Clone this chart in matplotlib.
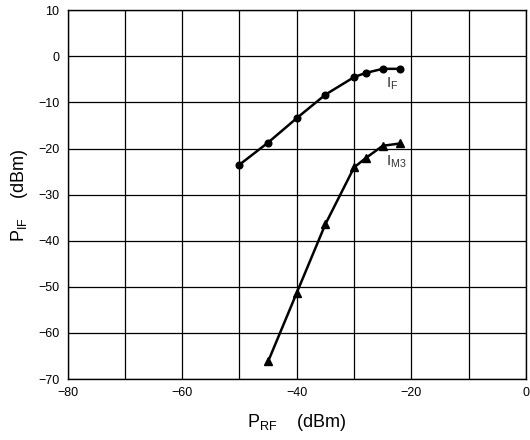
import matplotlib
matplotlib.use("Agg")
import matplotlib.pyplot as plt

plt.rcParams['font.family'] = ['Liberation Sans', 'DejaVu Sans']
plt.rcParams['mathtext.fontset'] = 'custom'
plt.rcParams['mathtext.rm'] = 'Liberation Sans'
plt.rcParams['mathtext.it'] = 'Liberation Sans'

# Data
if_x = [-50, -45, -40, -35, -30, -28, -25, -22]
if_y = [-23.5, -18.7, -13.4, -8.3, -4.5, -3.6, -2.7, -2.7]
im3_x = [-45, -40, -35, -30, -28, -25, -22]
im3_y = [-66.2, -51.3, -36.4, -24.1, -22.1, -19.4, -18.9]
x_ticks = [-80, -60, -40, -20, 0]
y_ticks = [10, 0, -10, -20, -30, -40, -50, -60, -70]

fig = plt.figure(figsize=(5.3, 4.4), dpi=100)
ax = fig.add_axes([67.5/530, 61/440, (526-67.5)/530, (379-10.3)/440])

ax.set_xlim(-80, 0)
ax.set_ylim(-70, 10)
ax.set_xticks(x_ticks)
ax.set_xticks(range(-80, 1, 10), minor=True)
ax.set_yticks(y_ticks)
ax.set_xticklabels([f"\u2212{abs(v)}" if v < 0 else str(v) for v in x_ticks])
ax.set_yticklabels([f"\u2212{abs(v)}" if v < 0 else str(v) for v in y_ticks])
ax.grid(True, which='both', color='black', linewidth=0.9)
ax.tick_params(which='both', length=0, labelsize=9, pad=6, colors='black')
for s in ax.spines.values():
    s.set_linewidth(1.0)
    s.set_color('black')

ax.plot(if_x, if_y, color='black', linewidth=1.8, marker='o', markersize=4.8, zorder=3)
ax.plot(im3_x, im3_y, color='black', linewidth=1.8, marker='^', markersize=5.5, zorder=3)

ax.text(-24.5, -5.9, r'$\mathregular{I_F}$', fontsize=11, color='#333333', ha='left', va='center')
ax.text(-24.5, -22.8, r'$\mathregular{I_{M3}}$', fontsize=11, color='#333333', ha='left', va='center')

ax.set_xlabel(r'$\mathregular{P_{RF}}$    (dBm)', fontsize=13, labelpad=9)
ax.set_ylabel(r'$\mathregular{P_{IF}}$    (dBm)', fontsize=13, labelpad=6)

fig.savefig('out.png', dpi=100)
